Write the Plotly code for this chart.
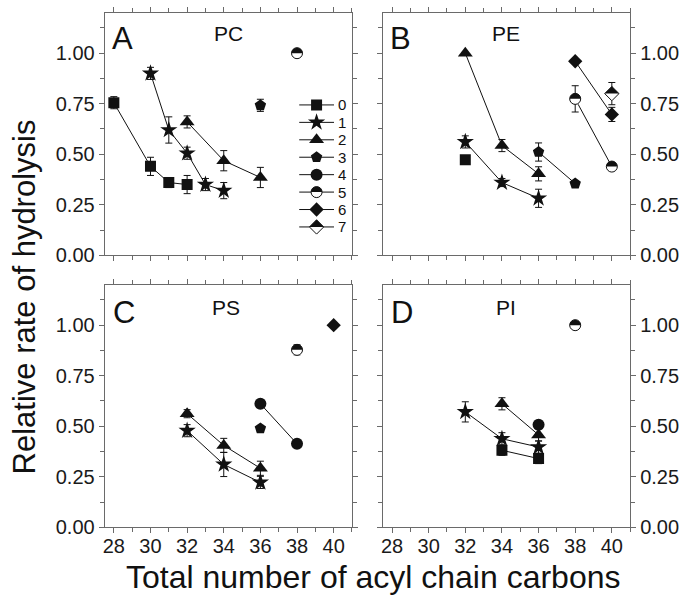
import plotly.graph_objects as go

# ---------------- data ----------------
series_labels = ["0", "1", "2", "3", "4", "5", "6", "7"]

# Panel A: PC
pc_series = [0, 0, 0, 0, 1, 1, 1, 1, 1, 2, 2, 2, 3, 5]
pc_carbons = [28, 30, 31, 32, 30, 31, 32, 33, 34, 32, 34, 36, 36, 38]
pc_rate = [0.755, 0.44, 0.36, 0.35, 0.90, 0.62, 0.505, 0.35, 0.32, 0.66, 0.468, 0.385, 0.742, 1.0]
pc_err = [0.03, 0.045, 0.025, 0.045, 0.03, 0.065, 0.03, 0.03, 0.04, 0.03, 0.05, 0.05, 0.03, 0.01]

# Panel B: PE
pe_series = [0, 1, 1, 1, 2, 2, 2, 3, 3, 5, 5, 6, 6, 7]
pe_carbons = [32, 32, 34, 36, 32, 34, 36, 36, 38, 38, 40, 38, 40, 40]
pe_rate = [0.473, 0.561, 0.36, 0.282, 1.0, 0.543, 0.403, 0.511, 0.355, 0.774, 0.439, 0.96, 0.697, 0.80]
pe_err = [0.0, 0.03, 0.02, 0.045, 0.0, 0.03, 0.035, 0.045, 0.01, 0.065, 0.02, 0.01, 0.035, 0.055]

# Panel C: PS
ps_series = [1, 1, 1, 2, 2, 2, 3, 4, 4, 5, 6]
ps_carbons = [32, 34, 36, 32, 34, 36, 36, 36, 38, 38, 40]
ps_rate = [0.478, 0.311, 0.222, 0.562, 0.405, 0.292, 0.489, 0.611, 0.413, 0.878, 1.0]
ps_err = [0.03, 0.06, 0.03, 0.02, 0.035, 0.035, 0.015, 0.01, 0.01, 0.025, 0.0]

# Panel D: PI
pi_series = [0, 0, 1, 1, 1, 2, 2, 4, 5]
pi_carbons = [34, 36, 32, 34, 36, 34, 36, 36, 38]
pi_rate = [0.381, 0.34, 0.571, 0.438, 0.397, 0.611, 0.457, 0.507, 1.0]
pi_err = [0.025, 0.025, 0.05, 0.03, 0.03, 0.03, 0.03, 0.01, 0.01]

panel_letters = ["A", "B", "C", "D"]
panel_lipids = ["PC", "PE", "PS", "PI"]
x_ticks = [28, 30, 32, 34, 36, 38, 40]
y_ticks = [0.0, 0.25, 0.50, 0.75, 1.00]
x_title = "Total number of acyl chain carbons"
y_title = "Relative rate of hydrolysis"

# ---------------- style ----------------
FONT = "Liberation Sans, Arial, sans-serif"
INK = "#111111"
FRAME = "#6a6a6a"
W, H = 681, 608

# symbol per series: (plotly symbol, size, kind)
SYM = {
    0: ("square", 11, "plain"),
    1: ("star", 13, "plain"),
    2: ("triangle-up", 13, "plain"),
    3: ("pentagon", 12, "plain"),
    4: ("circle", 12, "plain"),
    5: ("circle", 11, "half"),
    6: ("diamond", 11, "plain"),
    7: ("diamond", 11, "half"),
}

fig = go.Figure()


def half_extent(sym, size):
    # half-width of the symbol at its centre line (plotly geometry)
    return size / 2 if sym == "circle" else 0.65 * size


def add_marker_layers(sym_id, xs, ys, xa, ya):
    sym, size, kind = SYM[sym_id]
    if kind != "half":
        return
    # white cover over the lower half, then outline on top
    hw = half_extent(sym, size)
    cover_size = 2 * hw / 1.4
    fig.add_trace(go.Scatter(
        x=xs, y=ys, xaxis=xa, yaxis=ya, mode="markers", showlegend=False,
        hoverinfo="skip",
        marker=dict(symbol="line-ew", size=cover_size, color="white", standoff=hw / 2,
                    line=dict(color="white", width=hw))))
    fig.add_trace(go.Scatter(
        x=xs, y=ys, xaxis=xa, yaxis=ya, mode="markers", showlegend=False,
        hoverinfo="skip",
        marker=dict(symbol=sym + "-open", size=size, color=INK, line=dict(color=INK, width=1))))


panels = [
    (pc_series, pc_carbons, pc_rate, pc_err),
    (pe_series, pe_carbons, pe_rate, pe_err),
    (ps_series, ps_carbons, ps_rate, ps_err),
    (pi_series, pi_carbons, pi_rate, pi_err),
]

for p, (ser, xc, yr, er) in enumerate(panels):
    xa = "x" if p == 0 else f"x{p + 1}"
    ya = "y" if p == 0 else f"y{p + 1}"
    for s in range(len(series_labels)):
        idx = [i for i, v in enumerate(ser) if v == s]
        if not idx:
            continue
        xs = [xc[i] for i in idx]
        ys = [yr[i] for i in idx]
        es = [er[i] for i in idx]
        sym, size, kind = SYM[s]
        fig.add_trace(go.Scatter(
            x=xs, y=ys, xaxis=xa, yaxis=ya, mode="lines+markers", showlegend=False,
            name=series_labels[s],
            line=dict(color=INK, width=1),
            marker=dict(symbol=sym, size=size, color=INK, line=dict(width=0)),
            error_y=dict(type="data", array=es, visible=True, color=INK, thickness=1, width=3.5),
        ))
        add_marker_layers(s, xs, ys, xa, ya)

# ---------------- hand-built legend (panel A) ----------------
for s, lab in enumerate(series_labels):
    sym, size, kind = SYM[s]
    fig.add_trace(go.Scatter(x=[0, 1], y=[s, s], xaxis="x5", yaxis="y5", mode="lines",
                             showlegend=False, hoverinfo="skip",
                             line=dict(color=INK, width=1)))
    fig.add_trace(go.Scatter(x=[0.5], y=[s], xaxis="x5", yaxis="y5", mode="markers",
                             showlegend=False, hoverinfo="skip",
                             marker=dict(symbol=sym, size=size, color=INK, line=dict(width=0))))
    add_marker_layers(s, [0.5], [s], "x5", "y5")
    fig.add_annotation(x=1, y=s, xref="x5", yref="y5", text=lab, showarrow=False,
                       xanchor="left", yanchor="middle", xshift=2,
                       font=dict(family=FONT, size=15, color=INK))

# ---------------- axes ----------------
xdom = [[103 / W, 351 / W], [382 / W, 630 / W]]
ydom = [[1 - 260 / H, 1 - 13 / H], [1 - 537 / H, 1 - 290 / H]]

tickfont = dict(family=FONT, size=20, color="#1a1a1a")


def xaxis_cfg(col, row, show_labels):
    return dict(domain=xdom[col], range=[27.5, 41], showline=True, linecolor=FRAME, linewidth=1,
                mirror="ticks", ticks="outside", ticklen=5, tickcolor=FRAME, tickwidth=1,
                tickmode="array", tickvals=x_ticks, ticktext=[str(v) for v in x_ticks],
                showticklabels=show_labels, tickfont=tickfont, ticklabelstandoff=-4,
                minor=dict(tickmode="linear", tick0=27, dtick=1, ticks="outside", ticklen=4,
                           tickcolor=FRAME, tickwidth=1, showgrid=False),
                showgrid=False, zeroline=False)


def yaxis_cfg(col, row, anchor):
    return dict(domain=ydom[row], range=[0, 1.2], showline=True, linecolor=FRAME, linewidth=1,
                mirror="ticks", ticks="outside", ticklen=5, tickcolor=FRAME, tickwidth=1,
                tickmode="array", tickvals=y_ticks, ticktext=[f"{v:.2f}" for v in y_ticks],
                side="left" if col == 0 else "right", tickfont=tickfont, anchor=anchor,
                minor=dict(tickmode="linear", tick0=0.125, dtick=0.25, ticks="outside", ticklen=4,
                           tickcolor=FRAME, tickwidth=1, showgrid=False),
                showgrid=False, zeroline=False)


layout_axes = {}
for p in range(4):
    col, row = p % 2, p // 2
    xkey = "xaxis" if p == 0 else f"xaxis{p + 1}"
    ykey = "yaxis" if p == 0 else f"yaxis{p + 1}"
    xa = "x" if p == 0 else f"x{p + 1}"
    ya = "y" if p == 0 else f"y{p + 1}"
    cfg = xaxis_cfg(col, row, row == 1)
    cfg["anchor"] = ya
    layout_axes[xkey] = cfg
    layout_axes[ykey] = yaxis_cfg(col, row, xa)

layout_axes["xaxis5"] = dict(domain=[298 / W, 333 / W], range=[0, 1], visible=False, anchor="y5")
layout_axes["yaxis5"] = dict(domain=[1 - 240 / H, 1 - 98 / H], range=[7.5, -0.5], visible=False,
                             anchor="x5")

fig.update_layout(width=W, height=H, margin=dict(l=0, r=0, t=0, b=0), autosize=False,
                  paper_bgcolor="white", plot_bgcolor="white", showlegend=False,
                  font=dict(family=FONT, color=INK), **layout_axes)

# panel letters and lipid names
letter_pos = [(0.073, 0.895), (0.073, 0.895), (0.077, 0.887), (0.077, 0.887)]
lipid_pos = [(0.50, 0.915), (0.496, 0.915), (0.49, 0.907), (0.496, 0.907)]
for p in range(4):
    xa = "x" if p == 0 else f"x{p + 1}"
    ya = "y" if p == 0 else f"y{p + 1}"
    fig.add_annotation(x=letter_pos[p][0], y=letter_pos[p][1], xref=f"{xa} domain",
                       yref=f"{ya} domain", text=panel_letters[p], showarrow=False,
                       xanchor="center", yanchor="middle",
                       font=dict(family=FONT, size=31, color=INK))
    fig.add_annotation(x=lipid_pos[p][0], y=lipid_pos[p][1], xref=f"{xa} domain",
                       yref=f"{ya} domain", text=panel_lipids[p], showarrow=False,
                       xanchor="center", yanchor="middle",
                       font=dict(family=FONT, size=21, color=INK))

fig.add_annotation(x=372 / W, y=1 - 588 / H, xref="paper", yref="paper", text=x_title,
                   showarrow=False, xanchor="center", yanchor="middle",
                   font=dict(family=FONT, size=32, color=INK))
fig.add_annotation(x=23 / W, y=1 - 302 / H, xref="paper", yref="paper", text=y_title,
                   textangle=-90, showarrow=False, xanchor="center", yanchor="middle",
                   font=dict(family=FONT, size=31, color=INK))

fig.write_html("out.html")
